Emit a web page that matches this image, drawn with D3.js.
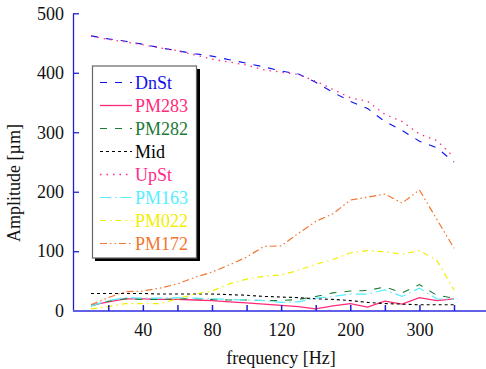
<!DOCTYPE html>
<html><head><meta charset="utf-8">
<script src="https://cdn.jsdelivr.net/npm/d3@7"></script>
<style>
html,body{margin:0;padding:0;background:#fff;}
svg text{font-family:"Liberation Serif","Times New Roman",Times,"DejaVu Serif",serif !important;}
</style></head>
<body><svg id="c" width="486" height="369"></svg>
<script>
const freqs = [10,20,30,40,50,60,70,80,90,100,110,120,140,160,180,200,225,250,275,300,325,350];
const tickFreqs = [20,40,60,80,100,120,160,200,250,300,350];
const tickLabels = [40,80,120,200,300];
const yTicks = [0,100,200,300,400,500];

const DnSt  = [462,457,453,448,442,437,432,428,422,416,410,403,398,384,367,352,340,318,303,285,274,250];
const PM283 = [9,15,20,20,19,19,18,17,15,13,11,9,7,3,8,12,6,16,11,22,17,20];
const PM282 = [8,16,20,19,19,20,20,19,18,18,17,17,19,24,30,33,34,40,30,44,26,21];
const Mid   = [29,29,29,29,28,28,28,28,27,26,24,23,22,20,19,17,14,12,11,10,10,10];
const UpSt  = [462,456,452,447,442,437,430,423,418,413,405,401,397,386,372,358,352,330,318,297,286,258];
const PM163 = [8,17,22,21,21,22,21,20,19,18,17,14,15,21,24,28,28,35,24,38,20,19];
const PM022 = [3,7,12,12,12,20,28,33,45,53,58,60,68,78,86,97,101,99,95,101,85,35];
const PM172 = [10,22,32,33,38,45,56,65,77,90,108,109,130,150,163,186,191,196,181,203,154,105];

const series = [
  {name:"DnSt",  values:DnSt,  color:"#1010ee", dash:"7,8",  w:1.1},
  {name:"PM283", values:PM283, color:"#ff2a78", dash:null,   w:1.3},
  {name:"PM282", values:PM282, color:"#1d7a35", dash:"7,8",  w:1.1},
  {name:"Mid",   values:Mid,   color:"#000000", dash:"3,3",  w:1.1},
  {name:"UpSt",  values:UpSt,  color:"#ff2a8a", dash:"1.5,5",w:1.3},
  {name:"PM163", values:PM163, color:"#55eeff", dash:"11,4,1.5,4", w:1.2},
  {name:"PM022", values:PM022, color:"#f2ee00", dash:"6,4,1.5,4",  w:1.2},
  {name:"PM172", values:PM172, color:"#f27530", dash:"7,3,1.5,3,1.5,3", w:1.2}
];

const svg = d3.select("#c");
const x = d3.scalePoint().domain(freqs).range([91,454]);
const y = d3.scaleLinear().domain([0,500]).range([310.7,13.3]);
const axisColor = "#2020d0";
const FONT = "'Liberation Serif','Times New Roman',Times,serif";

// lines
const line = d3.line().x((d,i)=>x(freqs[i])).y(d=>y(d));
series.forEach(s=>{
  svg.append("path").datum(s.values)
    .attr("d", line)
    .attr("fill","none")
    .attr("stroke", s.color)
    .attr("stroke-width", s.w)
    .attr("stroke-dasharray", s.dash);
});

// left axis
const yAxis = d3.axisLeft(y).tickValues(yTicks).tickSize(0).tickPadding(9);
const gy = svg.append("g").attr("transform","translate(73,0)").call(yAxis).attr("font-family",FONT);
gy.select(".domain").attr("stroke",axisColor).attr("stroke-width",1.3);
gy.selectAll(".tick text").attr("font-size",18).attr("fill","#111").style("font-family",FONT);
gy.selectAll(".tick").append("line").attr("x1",0).attr("x2",6).attr("stroke",axisColor).attr("stroke-width",1.3);

// bottom axis
svg.append("line").attr("x1",73).attr("x2",486).attr("y1",311).attr("y2",311)
  .attr("stroke","#6060e8").attr("stroke-width",2.2);
const xAxis = d3.axisBottom(x).tickValues(tickFreqs).tickSize(0).tickPadding(12)
  .tickFormat(d=> tickLabels.includes(d) ? d : "");
const gx = svg.append("g").attr("transform","translate(0,311)").call(xAxis).attr("font-family",FONT);
gx.select(".domain").remove();
gx.selectAll(".tick text").attr("font-size",18).attr("fill","#111").style("font-family",FONT);
gx.selectAll(".tick").append("line").attr("y1",0).attr("y2",-6).attr("stroke",axisColor).attr("stroke-width",1.5);

// axis titles
svg.append("text").attr("x",281).attr("y",364).attr("text-anchor","middle")
  .attr("font-size",18).attr("fill","#111").style("font-family",FONT).text("frequency [Hz]");
svg.append("text").attr("transform","translate(20,183) rotate(-90)").attr("text-anchor","middle")
  .attr("font-size",18).attr("fill","#111").style("font-family",FONT).text("Amplitude [µm]");

// legend
const lg = svg.append("g");
lg.append("rect").attr("x",95).attr("y",69).attr("width",105).attr("height",192).attr("fill","#000");
lg.append("rect").attr("x",92.5).attr("y",66).attr("width",104).attr("height",192)
  .attr("fill","#fff").attr("stroke","#666").attr("stroke-width",1.2);
series.forEach((s,i)=>{
  const cy = 82.5 + i*23;
  lg.append("line").attr("x1",100).attr("x2",132).attr("y1",cy).attr("y2",cy)
    .attr("stroke",s.color).attr("stroke-width",s.w).attr("stroke-dasharray",s.dash);
  lg.append("text").attr("x",135).attr("y",cy+6).attr("font-size",18).attr("fill",s.color)
    .style("font-family",FONT).text(s.name);
});
</script></body></html>
